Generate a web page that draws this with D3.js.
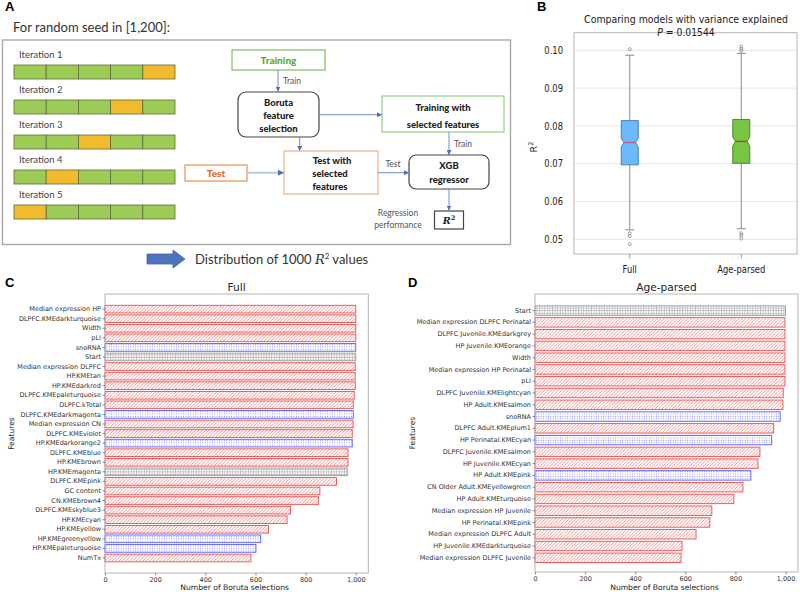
<!DOCTYPE html>
<html><head><meta charset="utf-8">
<script src="https://cdn.jsdelivr.net/npm/d3@7"></script>
<style>body{margin:0;background:#fff} svg{display:block} .tk text{fill:#333 !important}</style>
</head><body><svg id="c" width="800" height="592"></svg>
<script>
// ---------------- DATA ----------------
const iterations = ["Iteration 1", "Iteration 2", "Iteration 3", "Iteration 4", "Iteration 5"];
const testFold = [4, 3, 2, 1, 0];
const nFolds = 5;

const boxGroups = ["Full", "Age-parsed"];
const boxQ1 = [0.0697, 0.0701];
const boxMedian = [0.0756, 0.0759];
const boxQ3 = [0.0814, 0.0817];
const whiskerLow = [0.0525, 0.0528];
const whiskerHigh = [0.0987, 0.0992];
const notchHalf = [0.0012, 0.0012];
const outliersFull = [0.1003, 0.0516, 0.0508, 0.0487];
const outliersAge = [0.1010, 0.1004, 0.0999, 0.0516, 0.0511, 0.0502];
const boxTicks = [0.05, 0.06, 0.07, 0.08, 0.09, 0.10];
const pValue = "0.01544";

const fullFeatures = ["Median expression HP", "DLPFC.KMEdarkturquoise", "Width", "pLI", "snoRNA", "Start",
  "Median expression DLPFC", "HP.KMEtan", "HP.KMEdarkred", "DLPFC.KMEpaleturquoise", "DLPFC.kTotal",
  "DLPFC.KMEdarkmagenta", "Median expression CN", "DLPFC.KMEviolet", "HP.KMEdarkorange2", "DLPFC.KMEblue",
  "HP.KMEbrown", "HP.KMEmagenta", "DLPFC.KMEpink", "GC content", "CN.KMEbrown4", "DLPFC.KMEskyblue3",
  "HP.KMEcyan", "HP.KMEyellow", "HP.KMEgreenyellow", "HP.KMEpaleturquoise", "NumTx"];
const fullCounts = [1000, 1000, 1000, 1000, 1000, 1000, 998, 998, 998, 994, 990, 990, 989, 986, 986, 969,
  969, 966, 923, 857, 851, 740, 726, 652, 621, 602, 582];
const fullTypes = ["r", "r", "r", "r", "b", "g", "r", "r", "r", "r", "r", "b", "r", "r", "b", "r", "r", "g",
  "r", "r", "r", "r", "r", "r", "b", "b", "r"];

const ageFeatures = ["Start", "Median expression DLPFC Perinatal", "DLPFC Juvenile.KMEdarkgrey",
  "HP Juvenile.KMEorange", "Width", "Median expression HP Perinatal", "pLI", "DLPFC Juvenile.KMElightcyan",
  "HP Adult.KMEsalmon", "snoRNA", "DLPFC Adult.KMEplum1", "HP Perinatal.KMEcyan", "DLPFC Juvenile.KMEsalmon",
  "HP Juvenile.KMEcyan", "HP Adult.KMEpink", "CN Older Adult.KMEyellowgreen", "HP Adult.KMEturquoise",
  "Median expression HP Juvenile", "HP Perinatal.KMEpink", "Median expression DLPFC Adult",
  "HP Juvenile.KMEdarkturquoise", "Median expression DLPFC Juvenile"];
const ageCounts = [1000, 998, 998, 998, 998, 998, 998, 991, 990, 979, 953, 945, 898, 890, 862, 830, 794,
  706, 698, 643, 587, 583];
const ageTypes = ["g", "r", "r", "r", "r", "r", "r", "r", "r", "b", "r", "b", "r", "r", "b", "r", "r", "r",
  "r", "r", "r", "r"];
const countTicks = [0, 200, 400, 600, 800, 1000];

// ---------------- DRAW ----------------
const svg = d3.select("#c");
const defs = svg.append("defs");

const pr = defs.append("pattern").attr("id", "hr").attr("patternUnits", "userSpaceOnUse")
  .attr("width", 3.4).attr("height", 3.4);
pr.append("rect").attr("width", 3.4).attr("height", 3.4).attr("fill", "#fff");
pr.append("path").attr("d", "M-1,1 L1,-1 M0,3.4 L3.4,0 M2.4,4.4 L4.4,2.4")
  .attr("stroke", "#f07a7a").attr("stroke-width", 0.8);
const pb = defs.append("pattern").attr("id", "hb").attr("patternUnits", "userSpaceOnUse")
  .attr("width", 2.4).attr("height", 2.4);
pb.append("rect").attr("width", 2.4).attr("height", 2.4).attr("fill", "#fff");
pb.append("circle").attr("cx", 1.2).attr("cy", 1.2).attr("r", 0.55).attr("fill", "#8a8aff");
const pg = defs.append("pattern").attr("id", "hg").attr("patternUnits", "userSpaceOnUse")
  .attr("width", 2.6).attr("height", 2.6);
pg.append("rect").attr("width", 2.6).attr("height", 2.6).attr("fill", "#fff");
pg.append("path").attr("d", "M0,1.3 H2.6 M1.3,0 V2.6").attr("stroke", "#a8a8a8").attr("stroke-width", 0.6);

const mk = defs.append("marker").attr("id", "arr").attr("viewBox", "0 0 10 10")
  .attr("refX", 10).attr("refY", 5).attr("markerWidth", 5).attr("markerHeight", 5)
  .attr("markerUnits", "userSpaceOnUse").attr("orient", "auto");
mk.append("path").attr("d", "M0,0 L10,5 L0,10 z").attr("fill", "#4a72c0");
const mk2 = defs.append("marker").attr("id", "arr2").attr("viewBox", "0 0 10 10")
  .attr("refX", 10).attr("refY", 5).attr("markerWidth", 6).attr("markerHeight", 6)
  .attr("markerUnits", "userSpaceOnUse").attr("orient", "auto");
mk2.append("path").attr("d", "M0,0 L10,5 L0,10 z").attr("fill", "#4a72c0");

const F_DIAG = "Lato, 'Open Sans', sans-serif";
const F_MPL = "'DejaVu Sans', sans-serif";

function letter(t, x, y) {
  svg.append("text").attr("x", x).attr("y", y).text(t)
    .attr("font-family", "'Liberation Sans', Arial, sans-serif").attr("font-weight", "bold")
    .attr("font-size", 13).attr("fill", "#000");
}

// ===== Panel A =====
letter("A", 5, 11);
svg.append("text").attr("x", 13).attr("y", 31.5).text("For random seed in [1,200]:")
  .attr("font-family", F_DIAG).attr("font-size", 13).attr("fill", "#333");
svg.append("rect").attr("x", 2.5).attr("y", 40).attr("width", 508).attr("height", 204.5)
  .attr("fill", "none").attr("stroke", "#a8a8a8").attr("stroke-width", 1.4);

const segX = d3.scaleBand().domain(d3.range(nFolds)).range([14, 175]).padding(0);
const rowY = d3.scaleBand().domain(iterations).range([47, 222]).padding(0);
iterations.forEach((it, i) => {
  const y0 = rowY(it);
  svg.append("text").attr("x", 19).attr("y", y0 + 11).text(it)
    .attr("font-family", F_DIAG).attr("font-size", 9.5).attr("fill", "#444");
  d3.range(nFolds).forEach(k => {
    svg.append("rect").attr("x", segX(k)).attr("y", y0 + 18).attr("width", segX.bandwidth())
      .attr("height", 14).attr("fill", k === testFold[i] ? "#f0bb2c" : "#9ccc56")
      .attr("stroke", "#5f6a3a").attr("stroke-width", 0.8);
  });
});

function box(x, y, w, h, stroke, rx) {
  svg.append("rect").attr("x", x).attr("y", y).attr("width", w).attr("height", h)
    .attr("rx", rx || 0).attr("fill", "#fff").attr("stroke", stroke).attr("stroke-width", 1.2);
}
function txt(t, x, y, opts) {
  opts = opts || {};
  return svg.append("text").attr("x", x).attr("y", y).text(t)
    .attr("text-anchor", opts.anchor || "middle")
    .attr("font-family", opts.family || F_DIAG).attr("font-size", opts.size || 9.5)
    .attr("font-weight", opts.bold ? "900" : "normal").attr("fill", opts.fill || "#222")
    .attr("font-style", opts.italic ? "italic" : "normal");
}
function arrow(x1, y1, x2, y2, w, col, m) {
  svg.append("line").attr("x1", x1).attr("y1", y1).attr("x2", x2).attr("y2", y2)
    .attr("stroke", col || "#6d8fcf").attr("stroke-width", w || 1).attr("marker-end", `url(#${m || "arr"})`);
}

box(232, 50, 93, 20, "#7fbf5f");
txt("Training", 278.5, 64, {bold: true, fill: "#5aa832", size: 10});
arrow(278, 70, 278, 91.5);
txt("Train", 283, 84, {anchor: "start", size: 8.5, fill: "#555"});
box(238, 92, 81, 45, "#444", 8);
txt("Boruta", 278.5, 105.5, {bold: true});
txt("feature", 278.5, 118.5, {bold: true});
txt("selection", 278.5, 131.5, {bold: true});
box(382, 96, 122, 36, "#8fcf7f");
txt("Training with", 443, 111, {bold: true});
txt("selected features", 443, 128, {bold: true});
arrow(319, 114.7, 382, 114.7);
arrow(449, 132, 449, 155);
txt("Train", 454, 147, {anchor: "start", size: 8.5, fill: "#555"});
box(409, 155, 80, 34, "#444", 7);
txt("XGB", 449, 169, {bold: true});
txt("regressor", 449, 182.5, {bold: true});
arrow(299.7, 137, 299.7, 151);
box(284, 151, 94, 43, "#f0b080");
txt("Test with", 332, 163.5, {bold: true});
txt("selected", 330, 176.5, {bold: true});
txt("features", 330, 189.5, {bold: true});
box(185, 165, 62, 16, "#e8904a");
txt("Test", 216, 177, {bold: true, fill: "#e07028", size: 10});
arrow(247, 172.7, 284, 172.7, 2, "#b8c8e6", "arr2");
arrow(378, 172.7, 409, 172.7);
txt("Test", 393, 167, {size: 8.5, fill: "#555"});
arrow(449, 189, 449, 210.5);
box(434.5, 211, 29, 18, "#444");
const r2t = svg.append("text").attr("x", 449).attr("y", 224).attr("text-anchor", "middle")
  .attr("font-family", "'DejaVu Serif', serif").attr("font-weight", "bold").attr("font-style", "italic")
  .attr("font-size", 9.5).attr("fill", "#222");
r2t.append("tspan").text("R");
r2t.append("tspan").text("2").attr("font-size", 6.5).attr("dy", -4).attr("font-style", "normal");
txt("Regression", 398, 216, {size: 8.5, fill: "#555"});
txt("performance", 398, 228, {size: 8.5, fill: "#555"});

svg.append("path").attr("d", "M147,254 L173,254 L173,250 L185,259 L173,268 L173,264 L147,264 Z")
  .attr("fill", "#4d74bb").attr("stroke", "#3f63a6").attr("stroke-width", 0.8);
const dt = svg.append("text").attr("x", 195).attr("y", 264).attr("font-family", F_DIAG)
  .attr("font-size", 13).attr("fill", "#333");
dt.append("tspan").text("Distribution of 1000 ");
dt.append("tspan").text("R").attr("font-style", "italic").attr("font-family", "'DejaVu Serif', serif");
dt.append("tspan").text("2").attr("font-size", 8).attr("dy", -5);
dt.append("tspan").text(" values").attr("dy", 5);

// ===== Panel B =====
letter("B", 537, 11);
const SX = 0.84;
function stext(t, x, y, size, anchor) {
  const g = svg.append("g").attr("transform", `translate(${x},${y}) scale(${SX},1)`);
  return g.append("text").text(t).attr("text-anchor", anchor || "middle")
    .attr("font-family", F_MPL).attr("font-size", size).attr("fill", "#222");
}
const bL = 574, bR = 797, bT = 32.7, bB = 254;
const by = d3.scaleLinear().domain([0.04611, 0.10466]).range([bB, bT]);
const bx = d3.scalePoint().domain(boxGroups).range([bL, bR]).padding(0.5);
svg.append("g").selectAll("line").data(boxTicks).join("line")
  .attr("x1", bL).attr("x2", bR).attr("y1", d => by(d)).attr("y2", d => by(d))
  .attr("stroke", "#e6e6e6").attr("stroke-width", 1);
svg.append("rect").attr("x", bL).attr("y", bT).attr("width", bR - bL).attr("height", bB - bT)
  .attr("fill", "none").attr("stroke", "#b5b5b5").attr("stroke-width", 1);
boxTicks.forEach(t => stext(d3.format(".2f")(t), bL - 11, by(t) + 3.6, 10, "end"));
boxGroups.forEach(g => {
  svg.append("line").attr("x1", bx(g)).attr("x2", bx(g)).attr("y1", bB).attr("y2", bB + 4.5)
    .attr("stroke", "#999");
  stext(g, bx(g), 273, 10, "middle");
});
stext("Comparing models with variance explained", 686, 23, 11.2, "middle");
const pt = stext("", 686, 35.5, 11, "middle");
pt.append("tspan").text("P").attr("font-style", "italic");
pt.append("tspan").text(" = " + pValue);
const yl = svg.append("text").attr("transform", `translate(537,147) rotate(-90)`)
  .attr("text-anchor", "middle").attr("font-family", F_MPL).attr("font-size", 9.5).attr("fill", "#222");
yl.append("tspan").text("R");
yl.append("tspan").text("2").attr("font-size", 6.5).attr("dy", -4);

const fills = ["#6ab9fb", "#78c543"];
const strokes = ["#4a80b8", "#4e8a2e"];
const medCols = ["#b45a86", "#d8302a"];
const outl = [outliersFull, outliersAge];
const hw = 8.5, ind = 2.6;
boxGroups.forEach((g, i) => {
  const cx = bx(g);
  [[boxQ3[i], whiskerHigh[i]], [boxQ1[i], whiskerLow[i]]].forEach(([a, b]) => {
    svg.append("line").attr("x1", cx).attr("x2", cx).attr("y1", by(a)).attr("y2", by(b))
      .attr("stroke", "#8a8a8a").attr("stroke-width", 1);
    svg.append("line").attr("x1", cx - 4.5).attr("x2", cx + 4.5).attr("y1", by(b)).attr("y2", by(b))
      .attr("stroke", "#8a8a8a").attr("stroke-width", 1);
  });
  const q1 = by(boxQ1[i]), q3 = by(boxQ3[i]), m = by(boxMedian[i]);
  const nl = by(boxMedian[i] - notchHalf[i]), nh = by(boxMedian[i] + notchHalf[i]);
  const p = d3.path();
  p.moveTo(cx - hw, q1); p.lineTo(cx - hw, nl); p.lineTo(cx - hw + ind, m); p.lineTo(cx - hw, nh);
  p.lineTo(cx - hw, q3); p.lineTo(cx + hw, q3); p.lineTo(cx + hw, nh); p.lineTo(cx + hw - ind, m);
  p.lineTo(cx + hw, nl); p.lineTo(cx + hw, q1); p.closePath();
  svg.append("path").attr("d", p.toString()).attr("fill", fills[i]).attr("stroke", strokes[i]).attr("stroke-width", 1);
  svg.append("line").attr("x1", cx - hw + ind).attr("x2", cx + hw - ind).attr("y1", m).attr("y2", m)
    .attr("stroke", medCols[i]).attr("stroke-width", 1.3);
  svg.append("g").selectAll("circle").data(outl[i]).join("circle")
    .attr("cx", cx).attr("cy", d => by(d)).attr("r", 1.5)
    .attr("fill", "none").attr("stroke", "#888").attr("stroke-width", 0.8);
});

// ===== Panels C & D =====
function barPanel(o) {
  const x = d3.scaleLinear().domain([0, 1050]).range([o.left, o.right]);
  const y = d3.scaleBand().domain(o.features).range([o.bandTop, o.bandBottom]).paddingInner(0.2).paddingOuter(0);
  const g = svg.append("g");
  g.selectAll("rect.bar").data(o.features).join("rect").attr("class", "bar")
    .attr("x", x(0)).attr("y", d => y(d)).attr("height", y.bandwidth())
    .attr("width", (d, i) => x(o.counts[i]) - x(0))
    .attr("fill", (d, i) => o.types[i] === "r" ? "url(#hr)" : o.types[i] === "b" ? "url(#hb)" : "url(#hg)")
    .attr("stroke", (d, i) => o.types[i] === "r" ? "#ee5050" : o.types[i] === "b" ? "#5a5aff" : "#999")
    .attr("stroke-width", 0.9);
  g.append("rect").attr("x", o.left).attr("y", o.top).attr("width", o.right - o.left).attr("height", o.bottom - o.top)
    .attr("fill", "none").attr("stroke", "#b5b5b5").attr("stroke-width", 1);
  const ya = g.append("g").attr("class", "tk").attr("transform", `translate(${o.left},0)`)
    .call(d3.axisLeft(y).tickSize(2.5).tickPadding(1.5));
  ya.select(".domain").remove();
  ya.selectAll("line").attr("stroke", "#444").attr("stroke-width", 0.6);
  ya.selectAll("text").attr("font-family", F_MPL).attr("font-size", 6.5).style("fill", "#333");
  const xa = g.append("g").attr("class", "tk").attr("transform", `translate(0,${o.bottom})`)
    .call(d3.axisBottom(x).tickValues(countTicks).tickSize(2.5).tickPadding(1.5));
  xa.select(".domain").remove();
  xa.selectAll("line").attr("stroke", "#444").attr("stroke-width", 0.6);
  xa.selectAll("text").attr("font-family", F_MPL).attr("font-size", 6.5).style("fill", "#333");
  g.append("text").attr("x", (o.left + o.right) / 2 - 2).attr("y", 590).attr("text-anchor", "middle")
    .attr("font-family", F_MPL).attr("font-size", 7.6).attr("fill", "#222").text("Number of Boruta selections");
  g.append("text").attr("transform", `translate(${o.flabX},${(o.top + o.bottom) / 2}) rotate(-90)`)
    .attr("text-anchor", "middle").attr("font-family", F_MPL).attr("font-size", 7.6).attr("fill", "#222").text("Features");
  g.append("text").attr("x", (o.left + o.right) / 2).attr("y", 291).attr("text-anchor", "middle")
    .attr("font-family", F_MPL).attr("font-size", 10.6).attr("fill", "#222").text(o.title);
}
letter("C", 5, 287);
letter("D", 408, 287);
barPanel({features: fullFeatures, counts: fullCounts, types: fullTypes, left: 105, right: 368.3,
  top: 294, bottom: 573, bandTop: 305.3, bandBottom: 561.8, flabX: 14, title: "Full"});
barPanel({features: ageFeatures, counts: ageCounts, types: ageTypes, left: 535, right: 798,
  top: 294, bottom: 572, bandTop: 305.9, bandBottom: 562.5, flabX: 415, title: "Age-parsed"});
</script></body></html>
